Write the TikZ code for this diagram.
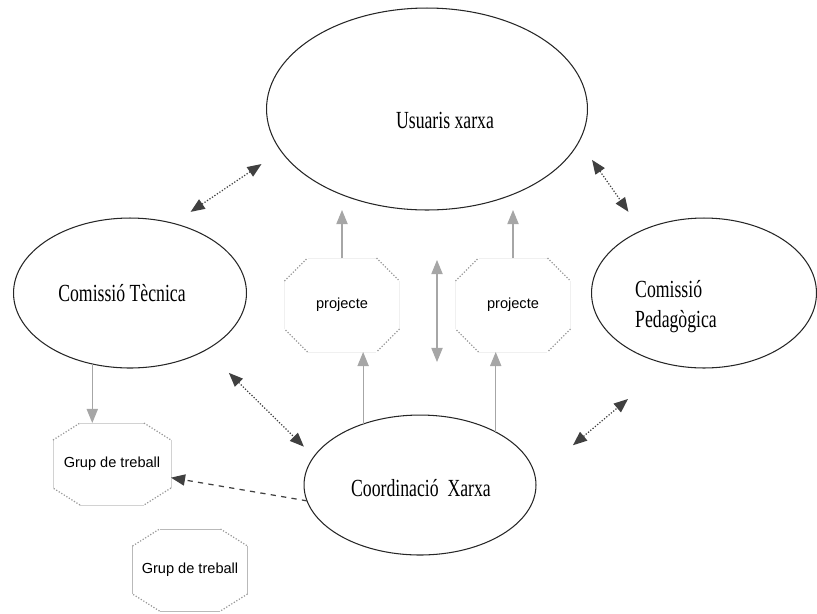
\documentclass[tikz,border=0pt]{standalone}
\usepackage{fontspec}
\usepackage{tikz}
\usetikzlibrary{calc}
\usetikzlibrary{shapes}
\usetikzlibrary{arrows.meta}
\newfontfamily\bubblefont[FakeStretch=0.72]{Liberation Serif}
\newfontfamily\grupfont{Liberation Sans}
\newcommand{\lablnode}[4]{\node[shape=rectangle,draw=none,fill=none,inner sep=0pt,align=left,font=\bubblefont\fontsize{14}{17}\selectfont] (#1) at ( #2 , #3 ) {#4};}
\newcommand{\octagon}[4]{\draw[#4] ($(#1.north west)+(#2,0)$) -- ($(#1.north east)+(-#2,0)$) ($(#1.north east)+(0,#3)$) -- ($(#1.south east)+(0,-#3)$) ($(#1.south east)+(-#2,0)$) -- ($(#1.south west)+(#2,0)$) ($(#1.south west)+(0,-#3)$) -- ($(#1.north west)+(0,#3)$);
  \draw[corner] ($(#1.north west)+(0,#3)$) -- ($(#1.north west)+(#2,0)$) ($(#1.north east)+(-#2,0)$) -- ($(#1.north east)+(0,#3)$) ($(#1.south east)+(0,-#3)$) -- ($(#1.south east)+(-#2,0)$) ($(#1.south west)+(#2,0)$) -- ($(#1.south west)+(0,-#3)$);}

\begin{document}
\begin{tikzpicture}[x=0.02cm, y=-0.02cm,
    bubble/.style={ellipse, draw=black!85, line width=0.6pt, inner sep=0pt, outer sep=0pt},
    octo/.style={rectangle, draw=none, inner sep=0pt, outer sep=0pt, font=\grupfont\fontsize{8.3}{10}\selectfont},
    corner/.style={densely dotted, draw=gray!80, line width=0.7pt},
    tipA/.style={-{Triangle[length=8pt,width=6.4pt]}},
    tipAB/.style={{Triangle[length=8pt,width=6.4pt]}-{Triangle[length=8pt,width=6.4pt]}},
    dotlink/.style={densely dotted, draw=black!75, line width=0.7pt},
    plainlink/.style={draw=gray!70, line width=0.6pt}]
    \useasboundingbox (0,0) rectangle (817,613);

    % ellipses
    \node[bubble, minimum width=6.42cm, minimum height=4.04cm] (usuaris) at (427,109) {};
    \node[bubble, minimum width=4.66cm, minimum height=3cm] (tecnica) at (130,293) {};
    \node[bubble, minimum width=4.5cm, minimum height=3cm] (pedagogica) at (704,293) {};
    \node[bubble, minimum width=4.64cm, minimum height=2.8cm] (coord) at (420,485) {};

    \lablnode{usuarist}{445}{120}{Usuaris xarxa}
    \lablnode{tecnicat}{122}{293}{Comissió Tècnica}
    \lablnode{pedagogicat}{676}{307}{Comissió\\Pedagògica}
    \lablnode{coordt}{421}{488}{Coordinació \ Xarxa}

    % octagons
    \node[octo, minimum width=2.3cm, minimum height=1.88cm] (projl) at (342,305) {projecte};
    \node[octo, minimum width=2.3cm, minimum height=1.88cm] (projr) at (513,305) {projecte};
    \node[octo, minimum width=2.36cm, minimum height=1.64cm] (grup1) at (112,464) {Grup de treball};
    \node[octo, minimum width=2.3cm, minimum height=1.64cm] (grup2) at (190,570) {Grup de treball};
    \octagon{projl}{23}{23}{draw=gray!12}
    \octagon{projr}{23}{23}{draw=gray!12}
    \octagon{grup1}{27}{17}{draw=gray!35}
    \octagon{grup2}{27}{17}{draw=gray!55}

    % dotted links
    \draw[dotlink, tipAB, shorten <=0.47cm, shorten >=0.414cm] (usuaris.196.5) -- (tecnica.58.5);
    \draw[dotlink, tipAB, shorten <=0.454cm, shorten >=0.46cm] (usuaris.348) -- (pedagogica.135.4);
    \draw[dotlink, tipAB, shorten <=0.652cm, shorten >=0.284cm] (tecnica.323.3) -- (coord.165.9);
    \draw[dotlink, tipAB, shorten <=0.986cm, shorten >=1.078cm] (coord.4.1) -- (pedagogica.244.1);
    \draw[dashed, draw=black!75, line width=0.7pt, tipA] (coord.188.7) -- (grup1.-13.3);

    % straight links
    \draw[plainlink, tipA] (tecnica.242.5) -- (tecnica.242.5 |- grup1.north);
    \draw[plainlink, tipA] (projl.north) -- (projl.north |- usuaris.south);
    \draw[plainlink, tipA] (projr.north) -- (projr.north |- usuaris.south);
    \draw[plainlink, tipA] (coord.133.7) -- (coord.133.7 |- projl.south);
    \draw[plainlink, tipA] (coord.35.5) -- (coord.35.5 |- projr.south);
    \draw[plainlink, tipAB, shorten <=1cm, shorten >=1.06cm] ([xshift=0.2cm]usuaris.south) -- ([xshift=0.2cm]usuaris.south |- coord.north);
\end{tikzpicture}
\end{document}
